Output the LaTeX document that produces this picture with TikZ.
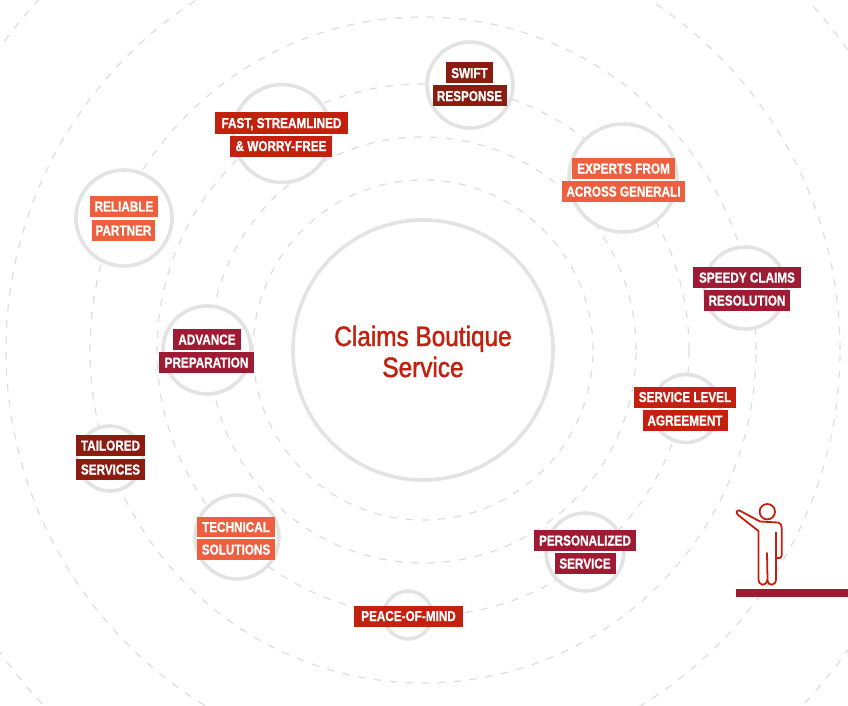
\documentclass[tikz,border=0pt]{standalone}
\usepackage{fontspec}
\setmainfont{Liberation Sans}
\newfontfamily\labfont[FakeStretch=0.815,BoldFeatures={FakeBold=0.8}]{Liberation Sans}
\newfontfamily\titlefont[FakeStretch=0.87,FakeBold=1.5]{Liberation Sans}
\definecolor{cOrange}{HTML}{EE5F3F}
\definecolor{cDark}{HTML}{8A1C10}
\definecolor{cCrimson}{HTML}{9E1B34}
\definecolor{cRed}{HTML}{C4200F}
\definecolor{cRing}{HTML}{E3E3E3}
\definecolor{cDash}{HTML}{DDDDDD}
\tikzset{
  dashring/.style={draw=cDash,line width=1.2pt,dash pattern=on 7.5pt off 8.5pt},
  ring/.style={circle,draw=cRing,fill=white,line width=3.6pt,inner sep=0pt},
  lab/.style={rectangle,inner sep=0pt,minimum height=21pt,text=white,font=\labfont\bfseries\fontsize{14.4}{15}\selectfont,text depth=0pt,anchor=center},
  title/.style={text=cRed,font=\titlefont\fontsize{28}{30}\selectfont},
  person/.style={draw=cRed,line width=1.8pt,line join=round,line cap=round}
}
\begin{document}
\begin{tikzpicture}[x=1pt,y=-1pt]
\clip (0,0) rectangle (848,706);
\foreach \r in {170,213,266,333,417,520}
  \draw[dashring] (423,350) circle [radius=\r pt];
% rings
\node[ring,minimum size=260pt] (main) at (423,350) {};
\node[ring,minimum size=86pt] (c1) at (470,85) {};
\node[ring,minimum size=98pt] (c2) at (282,133.5) {};
\node[ring,minimum size=108pt] (c3) at (623,178) {};
\node[ring,minimum size=82pt] (c4) at (745,288) {};
\node[ring,minimum size=68pt] (c5) at (686,408.5) {};
\node[ring,minimum size=78pt] (c6) at (585,552) {};
\node[ring,minimum size=48pt] (c7) at (408,615) {};
\node[ring,minimum size=84pt] (c8) at (237,537) {};
\node[ring,minimum size=65pt] (c9) at (110,458.5) {};
\node[ring,minimum size=88pt] (c10) at (207,350) {};
\node[ring,minimum size=96pt] (c11) at (124,218) {};
% title
\node[title,anchor=base] (t1) at (423,346) {Claims Boutique};
\node[title,anchor=base] (t2) at (423,377) {Service};
% labels
\node[lab,fill=cDark,minimum width=47pt] (l1a) at (469.5,73) {SWIFT};
\node[lab,fill=cDark,minimum width=74pt] (l1b) at (469.5,96) {RESPONSE};
\node[lab,fill=cRed,minimum width=133pt] (l2a) at (281.5,123) {FAST, STREAMLINED};
\node[lab,fill=cRed,minimum width=102pt] (l2b) at (281,146) {\& WORRY-FREE};
\node[lab,fill=cOrange,minimum width=103pt] (l3a) at (623.5,168.5) {EXPERTS FROM};
\node[lab,fill=cOrange,minimum width=123pt] (l3b) at (623.5,191.5) {ACROSS GENERALI};
\node[lab,fill=cCrimson,minimum width=108pt] (l4a) at (747,277.5) {SPEEDY CLAIMS};
\node[lab,fill=cCrimson,minimum width=86pt] (l4b) at (747,300.5) {RESOLUTION};
\node[lab,fill=cRed,minimum width=102pt] (l5a) at (685,397) {SERVICE LEVEL};
\node[lab,fill=cRed,minimum width=85pt] (l5b) at (685,420.5) {AGREEMENT};
\node[lab,fill=cCrimson,minimum width=102pt] (l6a) at (585,540.5) {PERSONALIZED};
\node[lab,fill=cCrimson,minimum width=61pt] (l6b) at (585,563.5) {SERVICE};
\node[lab,fill=cRed,minimum width=109pt] (l7) at (408.5,616) {PEACE-OF-MIND};
\node[lab,fill=cOrange,minimum width=78pt,minimum height=20.5pt] (l8a) at (236,527) {TECHNICAL};
\node[lab,fill=cOrange,minimum width=78pt,minimum height=20.5pt] (l8b) at (236,549.5) {SOLUTIONS};
\node[lab,fill=cDark,minimum width=69pt] (l9a) at (110.5,445.5) {TAILORED};
\node[lab,fill=cDark,minimum width=69pt] (l9b) at (110.5,469.5) {SERVICES};
\node[lab,fill=cCrimson,minimum width=68pt] (l10a) at (207,339.5) {ADVANCE};
\node[lab,fill=cCrimson,minimum width=95pt] (l10b) at (206.5,362.5) {PREPARATION};
\node[lab,fill=cOrange,minimum width=68pt] (l11a) at (124,206.5) {RELIABLE};
\node[lab,fill=cOrange,minimum width=63pt] (l11b) at (123.5,230.5) {PARTNER};
% person
\fill[cCrimson] (736,589) rectangle (848,596.5);
\draw[person] (767.3,511.7) circle [radius=7.7pt];
\draw[person] (739.5,510.5) -- (760,521.5) -- (778,522.5)
  .. controls (781,523) and (781.7,525) .. (781.7,528)
  -- (781.7,555) .. controls (781.7,558) and (779,559) .. (776,557.5);
\draw[person] (776,532.5) -- (776,579) .. controls (776,586) and (768,587) .. (767.5,580)
  -- (767,553);
\draw[person] (767.3,580) .. controls (766,587) and (758.5,586) .. (758.5,579)
  -- (758.5,531) -- (738,515) .. controls (735.5,512.5) and (737,509.5) .. (739.5,510.5);
\end{tikzpicture}
\end{document}
